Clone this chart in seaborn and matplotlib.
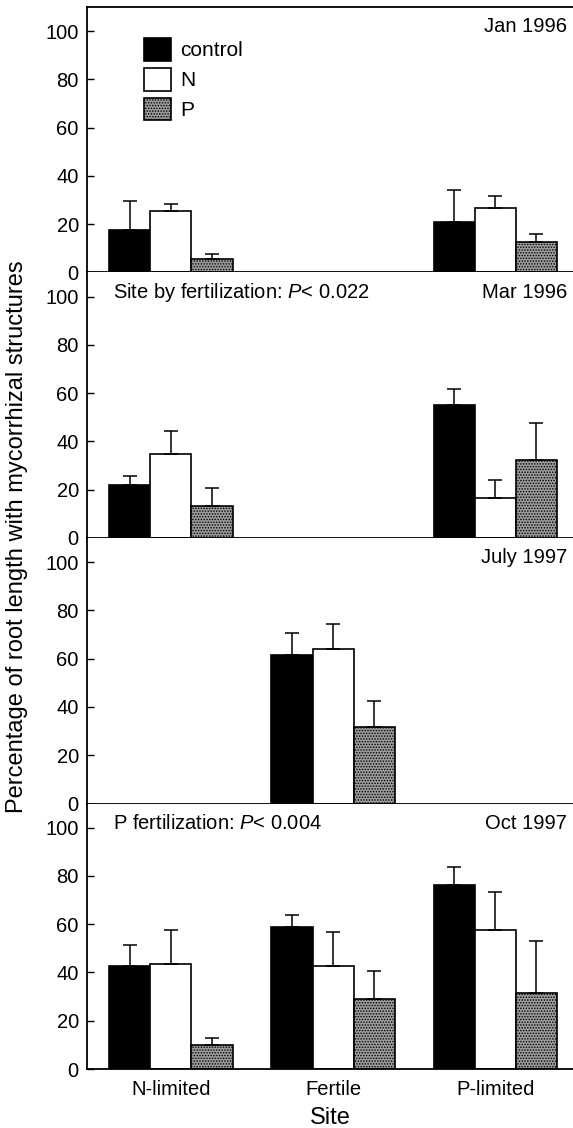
import numpy as np
import pandas as pd
import matplotlib
matplotlib.use("Agg")
import matplotlib.pyplot as plt
import seaborn as sns

nan = np.nan

sites = ["N-limited", "Fertile", "P-limited"]
treatments = ["control", "N", "P"]
panel_dates = ["Jan 1996", "Mar 1996", "July 1997", "Oct 1997"]
panel_notes = ["", "Site by fertilization: $P$< 0.022", "", "P fertilization: $P$< 0.004"]

# rows = treatment (control, N, P), columns = site (N-limited, Fertile, P-limited)
jan96_mean = [[17.5, nan, 21.0], [25.5, nan, 26.8], [5.5, nan, 12.5]]
jan96_err = [[12.0, nan, 13.0], [3.0, nan, 5.0], [2.0, nan, 3.5]]
mar96_mean = [[22.0, nan, 55.3], [34.8, nan, 16.5], [13.3, nan, 32.2]]
mar96_err = [[3.7, nan, 6.3], [9.6, nan, 7.7], [7.3, nan, 15.5]]
jul97_mean = [[nan, 61.5, nan], [nan, 64.0, nan], [nan, 31.9, nan]]
jul97_err = [[nan, 9.2, nan], [nan, 10.5, nan], [nan, 10.6, nan]]
oct97_mean = [[42.8, 59.0, 76.4], [43.6, 42.5, 57.5], [10.0, 28.8, 31.5]]
oct97_err = [[8.7, 4.6, 7.4], [14.0, 14.4, 15.8], [2.9, 12.0, 21.4]]

means = [jan96_mean, mar96_mean, jul97_mean, oct97_mean]
errs = [jan96_err, mar96_err, jul97_err, oct97_err]

colors = {"control": "#000000", "N": "#ffffff", "P": "#9c9c9c"}

sns.set_style("ticks")
plt.rcParams["font.family"] = ["Liberation Sans", "DejaVu Sans"]
plt.rcParams["mathtext.fontset"] = "custom"
plt.rcParams["mathtext.rm"] = "Liberation Sans"
plt.rcParams["mathtext.it"] = "Liberation Sans:italic"
plt.rcParams["hatch.color"] = "#3a3a3a"
plt.rcParams["hatch.linewidth"] = 0.7
for key in ["text.color", "axes.labelcolor", "xtick.color", "ytick.color",
            "axes.edgecolor"]:
    plt.rcParams[key] = "black"

fig, axes = plt.subplots(4, 1, figsize=(5.73, 11.28), dpi=100, sharex=True)
fig.subplots_adjust(left=0.152, right=1.0, top=0.9938, bottom=0.0523, hspace=0)

for k, ax in enumerate(axes):
    rows = []
    for ti, t in enumerate(treatments):
        for si, s in enumerate(sites):
            rows.append({"site": s, "treatment": t, "value": means[k][ti][si]})
    df = pd.DataFrame(rows)
    sns.barplot(data=df, x="site", y="value", hue="treatment", order=sites,
                hue_order=treatments, palette=colors, width=0.76,
                edgecolor="black", linewidth=1.2, errorbar=None,
                legend=False, ax=ax, zorder=2)
    bar_conts = list(ax.containers)
    # error bars (upper only), positioned from the drawn bars
    for ti, cont in enumerate(bar_conts):
        xs, ys, es = [], [], []
        for p in cont.patches:
            h = p.get_height()
            if not np.isfinite(h):
                continue
            xc = p.get_x() + p.get_width() / 2
            si = int(round(xc))
            e = errs[k][ti][si]
            if treatments[ti] == "P":
                p.set_hatch("......")
            if not np.isfinite(e):
                continue
            xs.append(xc)
            ys.append(h)
            es.append(e)
        if xs:
            ax.errorbar(xs, ys, yerr=[np.zeros(len(es)), es], fmt="none",
                        ecolor="black", elinewidth=1.1, capsize=5,
                        capthick=1.1, zorder=3)
    ax.set_ylim(0, 110)
    ax.set_xlim(-0.517, 2.479)
    ax.set_yticks([0, 20, 40, 60, 80, 100])
    ax.tick_params(axis="y", direction="in", length=5, width=1.0,
                   labelsize=14.5, pad=6)
    ax.tick_params(axis="x", length=0, labelsize=14.5, pad=8)
    ax.set_ylabel("")
    ax.set_xlabel("")
    for sp in ["left", "bottom"]:
        ax.spines[sp].set_linewidth(1.3)
    ax.spines["right"].set_visible(False)
    if k == 0:
        ax.spines["top"].set_visible(True)
        ax.spines["top"].set_linewidth(1.3)
    else:
        ax.spines["top"].set_visible(False)
    tr = ax.get_yaxis_transform()
    ax.text(0.9877, 99.5, panel_dates[k], transform=tr, ha="right",
            va="baseline", fontsize=14.5)
    if panel_notes[k]:
        ax.text(0.0535, 99.5, panel_notes[k], transform=tr, ha="left",
                va="baseline", fontsize=14.5)
    if k == 0:
        handles = [c.patches[0] for c in bar_conts]
        ax.legend(handles, treatments, loc="upper left",
                  bbox_to_anchor=(0.117, 0.883), frameon=False, fontsize=15,
                  handlelength=1.3, handleheight=1.3, labelspacing=0.34,
                  handletextpad=0.45, borderpad=0, borderaxespad=0)

axes[-1].set_xticks(range(len(sites)))
axes[-1].set_xticklabels(sites)
axes[-1].set_xlabel("Site", fontsize=17, labelpad=6)
fig.text(0.0288, 0.5244,
         "Percentage of root length with mycorrhizal structures",
         rotation=90, ha="center", va="center", fontsize=17)

fig.savefig("out.png", dpi=100)
